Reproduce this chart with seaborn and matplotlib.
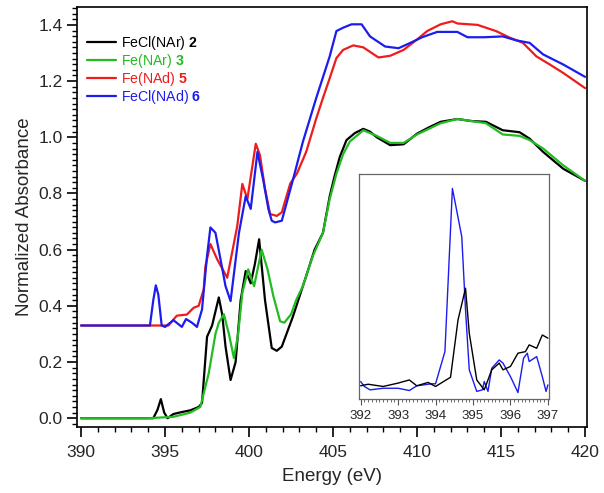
import numpy as np
import pandas as pd
import seaborn as sns
import matplotlib.pyplot as plt
from matplotlib.ticker import MultipleLocator

# -----------------------------------------------
# Data
# -----------------------------------------------
energy_2 = [390, 392, 394.3, 394.55, 394.75, 394.95, 395.15, 395.5, 396, 396.5,
            397.0, 397.2, 397.5, 397.8, 398.0, 398.2, 398.4, 398.6, 398.9, 399.2,
            399.5, 399.8, 400.1, 400.35, 400.6, 400.95, 401.35, 401.65, 401.95, 402.6,
            403.4, 403.9, 404.4, 404.8, 405.1, 405.4, 405.8, 406.3, 406.8, 407.2,
            407.6, 408.4, 409.2, 410.0, 410.7, 411.4, 412.4, 413.2, 414.1, 415.1,
            416.1, 416.7, 417.5, 418.7, 420]
absorb_2 = [0.0, 0.0, 0.0, 0.03, 0.068, 0.02, 0.0, 0.015, 0.022, 0.028,
            0.04, 0.054, 0.29, 0.33, 0.38, 0.43, 0.37, 0.255, 0.136, 0.2,
            0.42, 0.524, 0.48, 0.55, 0.637, 0.42, 0.25, 0.24, 0.255, 0.36,
            0.506, 0.60, 0.66, 0.79, 0.864, 0.93, 0.99, 1.015, 1.03, 1.02,
            1.0, 0.972, 0.975, 1.013, 1.035, 1.055, 1.065, 1.058, 1.055, 1.025,
            1.018, 0.995, 0.948, 0.888, 0.845]

energy_3 = [390, 394, 395.5, 396.5, 397.1, 397.6, 398.0, 398.2, 398.5, 398.8,
            399.1, 399.35, 399.6, 399.95, 400.3, 400.75, 401.1, 401.45, 401.85, 402.1,
            402.5, 402.8, 403.2, 403.8, 404.4, 404.8, 405.2, 405.6, 406.0, 406.8,
            407.6, 408.4, 409.2, 410.0, 411.4, 412.4, 413.2, 414.1, 415.1, 416.1,
            416.7, 417.5, 418.7, 420]
absorb_3 = [0.0, 0.0, 0.005, 0.02, 0.04, 0.16, 0.30, 0.34, 0.37, 0.30,
            0.214, 0.30, 0.446, 0.53, 0.47, 0.60, 0.53, 0.434, 0.345, 0.34,
            0.37, 0.42, 0.47, 0.578, 0.66, 0.78, 0.87, 0.94, 0.985, 1.025,
            1.005, 0.98, 0.98, 1.01, 1.05, 1.065, 1.058, 1.05, 1.01, 1.005,
            0.99, 0.96, 0.9, 0.845]

energy_5 = [390, 395.2, 395.7, 396.3, 396.7, 397.0, 397.3, 397.4, 397.7, 398.1,
            398.7, 399.3, 399.6, 399.9, 400.4, 400.65, 400.95, 401.25, 401.65, 401.95,
            402.45, 402.85, 403.4, 404.0, 404.4, 404.8, 405.2, 405.6, 406.2, 406.8,
            407.7, 408.4, 409.2, 410.0, 410.6, 411.4, 412.1, 412.4, 413.6, 414.7,
            415.5, 416.3, 417.1, 417.9, 418.7, 420]
absorb_5 = [0.33, 0.33, 0.365, 0.369, 0.393, 0.40, 0.458, 0.54, 0.62, 0.566,
            0.50, 0.685, 0.834, 0.78, 0.977, 0.936, 0.817, 0.727, 0.72, 0.733,
            0.835, 0.871, 0.948, 1.067, 1.14, 1.21, 1.282, 1.311, 1.327, 1.32,
            1.284, 1.29, 1.311, 1.348, 1.378, 1.402, 1.413, 1.405, 1.40, 1.378,
            1.355, 1.336, 1.288, 1.259, 1.229, 1.175]

energy_6 = [390, 394.1, 394.3, 394.45, 394.6, 394.8, 395.0, 395.5, 396.0, 396.25,
            396.6, 396.9, 397.2, 397.5, 397.7, 398.0, 398.3, 398.6, 398.9, 399.4,
            399.8, 400.1, 400.5, 400.85, 401.15, 401.35, 401.55, 401.95, 402.6, 403.2,
            404.0, 404.8, 405.2, 405.6, 406.1, 406.7, 407.2, 408.1, 408.9, 409.6,
            410.3, 411.2, 412.4, 413.0, 414.0, 415.1, 415.9, 416.7, 417.5, 418.7,
            420]
absorb_6 = [0.33, 0.33, 0.42, 0.473, 0.44, 0.33, 0.325, 0.349, 0.325, 0.353,
            0.34, 0.325, 0.387, 0.578, 0.679, 0.66, 0.566, 0.47, 0.417, 0.66,
            0.79, 0.745, 0.948, 0.846, 0.745, 0.703, 0.697, 0.703, 0.846, 0.983,
            1.14, 1.288, 1.378, 1.39, 1.402, 1.402, 1.359, 1.323, 1.317, 1.336,
            1.356, 1.375, 1.375, 1.356, 1.356, 1.359, 1.345, 1.336, 1.295, 1.259,
            1.215]

# inset: pre-edge region (arbitrary units)
inset_energy_6 = [392.0, 392.1, 392.25, 392.6, 393.0, 393.3, 393.5, 393.9, 394.0, 394.25,
                  394.45, 394.7, 394.8, 394.9, 395.1, 395.25, 395.3, 395.4, 395.5, 395.7,
                  395.8, 396.0, 396.2, 396.35, 396.45, 396.5, 396.7, 396.85, 396.95, 397.0]
inset_absorb_6 = [0.077, 0.055, 0.040, 0.047, 0.047, 0.037, 0.058, 0.067, 0.067, 0.210,
                  0.936, 0.721, 0.396, 0.129, 0.033, 0.040, 0.077, 0.033, 0.136, 0.173,
                  0.159, 0.099, 0.028, 0.181, 0.203, 0.166, 0.188, 0.099, 0.033, 0.062]
inset_energy_2 = [392.0, 392.2, 392.6, 393.0, 393.3, 393.5, 393.8, 394.0, 394.4, 394.6,
                  394.8, 394.9, 395.1, 395.3, 395.5, 395.7, 395.8, 396.0, 396.2, 396.4,
                  396.5, 396.7, 396.85, 397.0]
inset_absorb_2 = [0.058, 0.065, 0.055, 0.070, 0.084, 0.058, 0.073, 0.055, 0.096, 0.351,
                  0.492, 0.292, 0.084, 0.040, 0.129, 0.159, 0.129, 0.144, 0.203, 0.210,
                  0.240, 0.225, 0.284, 0.270]

labels = [r'FeCl(NAr) $\mathbf{2}$', r'Fe(NAr) $\mathbf{3}$',
          r'Fe(NAd) $\mathbf{5}$', r'FeCl(NAd) $\mathbf{6}$']
colors = ['#000000', '#22bb22', '#ee1c1c', '#1c1cee']

# -----------------------------------------------
# Style
# -----------------------------------------------
sns.set_style('ticks')
plt.rcParams['font.family'] = ['Liberation Sans', 'DejaVu Sans']
plt.rcParams['mathtext.fontset'] = 'custom'
plt.rcParams['mathtext.rm'] = 'Liberation Sans'
plt.rcParams['mathtext.bf'] = 'Liberation Sans:bold'

fig = plt.figure(figsize=(6.04, 4.93), dpi=100)
ax = fig.add_axes([0.1275, 0.134, 0.8445, 0.852])

series = [(energy_2, absorb_2), (energy_3, absorb_3),
          (energy_5, absorb_5), (energy_6, absorb_6)]
for (e, a), lab, c in zip(series, labels, colors):
    sns.lineplot(x=e, y=a, color=c, lw=1.6, label=lab, ax=ax)

ax.set_xlim(389.76, 420.12)
ax.set_ylim(-0.031, 1.464)
ax.xaxis.set_major_locator(MultipleLocator(5))
ax.xaxis.set_minor_locator(MultipleLocator(1))
ax.yaxis.set_major_locator(MultipleLocator(0.2))
ax.yaxis.set_minor_locator(MultipleLocator(0.02))
ax.yaxis.set_major_formatter(plt.FormatStrFormatter('%.1f'))
ax.tick_params(which='major', length=7, width=1.2, labelsize=12.5, color='black')
ax.tick_params(axis='x', which='major', pad=6)
ax.tick_params(which='minor', length=3.5, width=1.0, color='black')
for s in ax.spines.values():
    s.set_linewidth(1.2)
    s.set_color('black')
ax.set_xlabel('Energy (eV)', fontsize=13.5, labelpad=6)
ax.set_ylabel('Normalized Absorbance', fontsize=13.5)

leg = ax.legend(loc='upper left', bbox_to_anchor=(-0.005, 0.965), frameon=False,
                fontsize=10.2, handlelength=2.0, handletextpad=0.35,
                labelspacing=0.0, labelcolor='linecolor')
for line in leg.get_lines():
    line.set_linewidth(1.6)

# -----------------------------------------------
# Inset
# -----------------------------------------------
axin = fig.add_axes([0.594, 0.191, 0.315, 0.456])
sns.lineplot(x=inset_energy_6, y=inset_absorb_6, color=colors[3], lw=1.0, ax=axin)
sns.lineplot(x=inset_energy_2, y=inset_absorb_2, color=colors[0], lw=1.0, ax=axin)
axin.set_xlim(391.95, 397.03)
axin.set_ylim(0, 1)
axin.set_yticks([])
axin.set_xlabel('')
axin.set_ylabel('')
axin.xaxis.set_major_locator(MultipleLocator(1))
axin.xaxis.set_minor_locator(MultipleLocator(0.1))
axin.tick_params(which='major', length=4, width=0.8, labelsize=9.5, color='#555555', pad=4)
axin.tick_params(which='minor', length=2, width=0.6, color='#555555')
for s in axin.spines.values():
    s.set_linewidth(0.9)
    s.set_color('#666666')

fig.savefig('out.png', dpi=100)
